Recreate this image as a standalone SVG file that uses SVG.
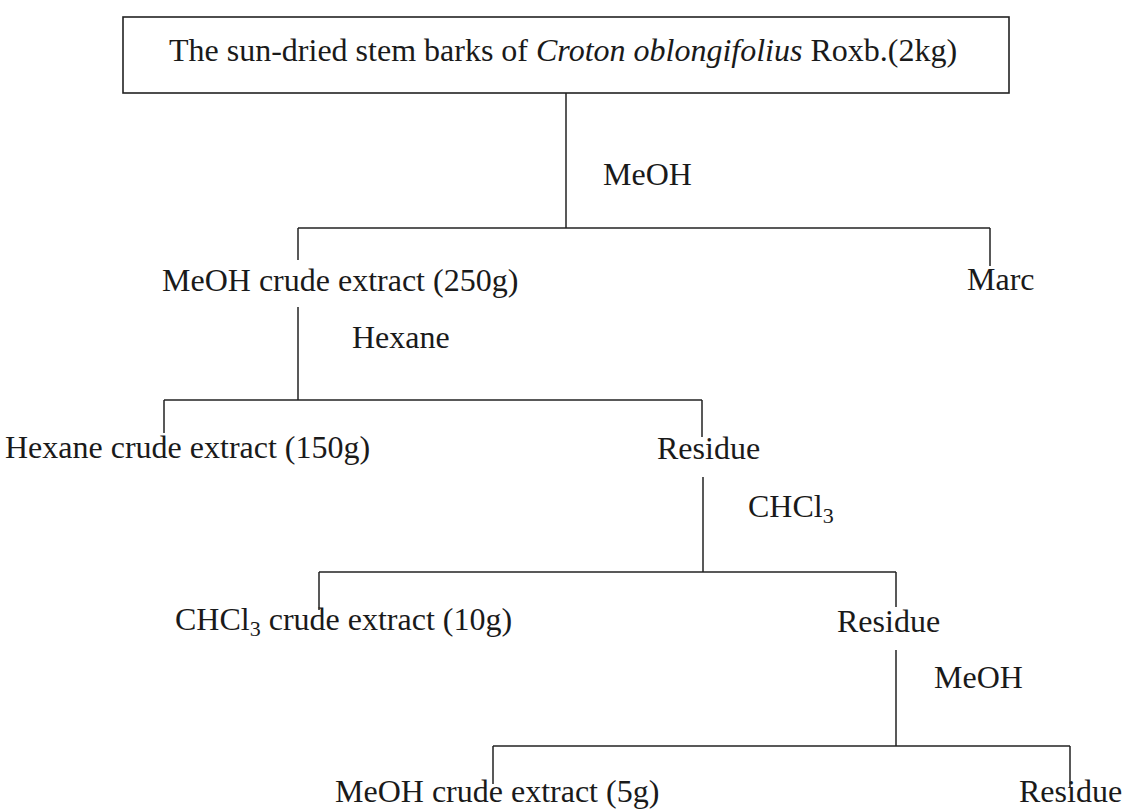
<svg xmlns="http://www.w3.org/2000/svg" width="1124" height="810" viewBox="0 0 1124 810">
<style>
text{font-family:"Liberation Serif","Times New Roman",serif;font-size:32px;fill:#1a1a1a}
.c line{stroke:#222;stroke-width:1.5}
.box{fill:#fff;stroke:#222;stroke-width:1.6}
.sub{font-size:22px}
</style>
<rect width="1124" height="810" fill="#fff"/>
<g id="start">
<rect class="box" x="123" y="17" width="886" height="76"/>
<text x="169" y="61">The sun-dried stem barks of <tspan font-style="italic">Croton oblongifolius</tspan> Roxb.(2kg)</text>
</g>
<g class="c" id="connectors">
<line x1="566" y1="93" x2="566" y2="228"/>
<line x1="298" y1="228" x2="990" y2="228"/>
<line x1="298" y1="228" x2="298" y2="260"/>
<line x1="990" y1="228" x2="990" y2="266"/>
<line x1="298" y1="307" x2="298" y2="400"/>
<line x1="164" y1="400" x2="702" y2="400"/>
<line x1="164" y1="400" x2="164" y2="433"/>
<line x1="702" y1="400" x2="702" y2="437"/>
<line x1="703" y1="477" x2="703" y2="572"/>
<line x1="319" y1="572" x2="896" y2="572"/>
<line x1="319" y1="572" x2="319" y2="610"/>
<line x1="896" y1="572" x2="896" y2="607"/>
<line x1="896" y1="650" x2="896" y2="746"/>
<line x1="493" y1="746" x2="1070" y2="746"/>
<line x1="493" y1="746" x2="493" y2="784"/>
<line x1="1070" y1="746" x2="1070" y2="788"/>
</g>
<g id="label-meoh1"><text x="603" y="185">MeOH</text></g>
<g id="meoh-crude"><text x="162" y="291">MeOH crude extract (250g)</text></g>
<g id="marc"><text x="967" y="290">Marc</text></g>
<g id="label-hexane"><text x="352" y="348">Hexane</text></g>
<g id="hexane-crude"><text x="5" y="458">Hexane crude extract (150g)</text></g>
<g id="residue1"><text x="657" y="459">Residue</text></g>
<g id="label-chcl3"><text x="748" y="517">CHCl<tspan class="sub" dy="6">3</tspan></text></g>
<g id="chcl3-crude"><text x="175" y="630">CHCl<tspan class="sub" dy="6">3</tspan><tspan dy="-6"> crude extract (10g)</tspan></text></g>
<g id="residue2"><text x="837" y="632">Residue</text></g>
<g id="label-meoh2"><text x="934" y="688">MeOH</text></g>
<g id="meoh-crude2"><text x="335" y="802">MeOH crude extract (5g)</text></g>
<g id="residue3"><text x="1019" y="802">Residue</text></g>
</svg>
